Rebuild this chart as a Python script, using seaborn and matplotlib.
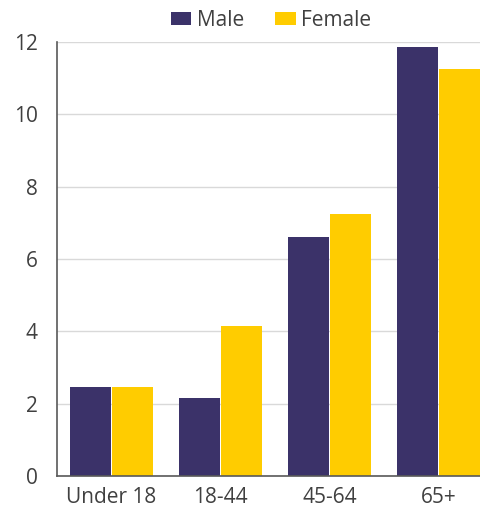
import matplotlib
matplotlib.use("Agg")
import matplotlib.pyplot as plt
import seaborn as sns
import pandas as pd

categories = ["Under 18", "18-44", "45-64", "65+"]
male = [2.45, 2.15, 6.6, 11.85]
female = [2.45, 4.15, 7.25, 11.25]
series = ["Male", "Female"]
colors = ["#3b3269", "#ffcc00"]

df = pd.DataFrame({
    "cat": categories * 2,
    "val": male + female,
    "sex": ["Male"] * 4 + ["Female"] * 4,
})

sns.set_theme(style="white")
plt.rcParams["font.family"] = ["Open Sans", "DejaVu Sans"]
fig = plt.figure(figsize=(4.81, 5.13), dpi=100)
ax = fig.add_axes([57 / 481, 1 - 476 / 513, 1 - 57 / 481, (476 - 42) / 513])
sns.barplot(data=df, x="cat", y="val", hue="sex", hue_order=series,
            palette=colors, width=0.77, gap=0.04, ax=ax, saturation=1,
            legend=True, linewidth=0)
ax.set_ylim(0, 12)
ax.set_xlim(-0.5, 3.39)
ax.set_yticks([0, 2, 4, 6, 8, 10, 12])
ax.yaxis.grid(True, color="#d9d9d9", linewidth=1)
ax.set_axisbelow(True)
for s in ["top", "right"]:
    ax.spines[s].set_visible(False)
ax.spines["left"].set_color("#595959")
ax.spines["bottom"].set_color("#595959")
ax.spines["left"].set_linewidth(1.2)
ax.spines["bottom"].set_linewidth(1.2)
ax.set_xlabel("")
ax.set_ylabel("")
ax.tick_params(axis="y", labelsize=15, colors="#404040", length=0, pad=14)
ax.tick_params(axis="x", labelsize=15, colors="#404040", length=0, pad=8)
h, l = ax.get_legend_handles_labels()
ax.legend(h, l, loc="center", bbox_to_anchor=((271 - 57) / 424, 1 + 22 / 434),
          ncol=2, frameon=False, fontsize=15, handlelength=1.0, handleheight=0.6,
          columnspacing=1.5, handletextpad=0.25, labelcolor="#404040",
          borderpad=0, borderaxespad=0)
fig.savefig("out.png", dpi=100)
